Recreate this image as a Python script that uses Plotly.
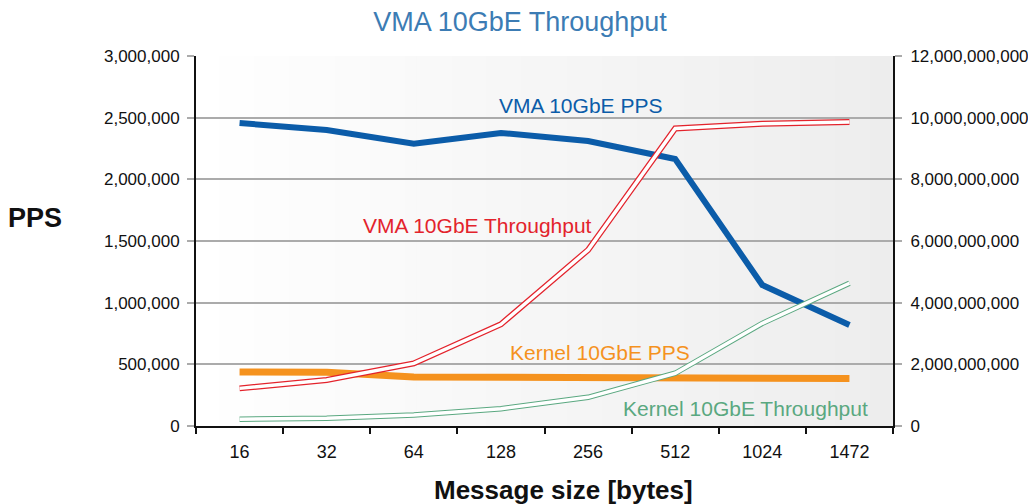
import plotly.graph_objects as go

categories = ["16", "32", "64", "128", "256", "512", "1024", "1472"]
vma_pps = [2457000, 2400000, 2288000, 2376000, 2311000, 2165000, 1143000, 819000]
kernel_pps = [438000, 435000, 397000, 397000, 387000, 385000, 385000, 385000]
vma_tput = [1.22e9, 1.49e9, 2.03e9, 3.30e9, 5.71e9, 9.65e9, 9.80e9, 9.86e9]
kernel_tput = [0.22e9, 0.25e9, 0.36e9, 0.56e9, 0.93e9, 1.71e9, 3.33e9, 4.63e9]

left_ticks = [0, 500000, 1000000, 1500000, 2000000, 2500000, 3000000]
right_ticks = [0, 2e9, 4e9, 6e9, 8e9, 10e9, 12e9]

FONT = "Liberation Sans, Arial, sans-serif"

# The page body has an 8px default margin; the figure is sized to fit the window.
OFF = 8
W, H = 1036 - OFF, 504 - OFF

fig = go.Figure()

fig.add_trace(go.Scatter(x=categories, y=vma_pps, mode="lines",
                         line=dict(color="#0b5ca9", width=6), yaxis="y"))
fig.add_trace(go.Scatter(x=categories, y=kernel_pps, mode="lines",
                         line=dict(color="#f5921e", width=7), yaxis="y"))
# double lines (outline + white core)
fig.add_trace(go.Scatter(x=categories, y=vma_tput, mode="lines",
                         line=dict(color="#e3232c", width=6), yaxis="y2"))
fig.add_trace(go.Scatter(x=categories, y=vma_tput, mode="lines",
                         line=dict(color="#ffffff", width=3.5), yaxis="y2"))
fig.add_trace(go.Scatter(x=categories, y=kernel_tput, mode="lines",
                         line=dict(color="#5aa880", width=5.5), yaxis="y2"))
fig.add_trace(go.Scatter(x=categories, y=kernel_tput, mode="lines",
                         line=dict(color="#ffffff", width=3.5), yaxis="y2"))

# background gradient (white -> light gray)
n = 60
shapes = []
for i in range(n):
    t = (i + 0.5) / n
    c = int(round(255 - t * (255 - 237)))
    shapes.append(dict(type="rect", xref="paper", yref="paper",
                       x0=i / n, x1=(i + 1) / n + 0.002, y0=0, y1=1,
                       fillcolor=f"rgb({c},{c},{c})", line=dict(width=0),
                       layer="below"))

def px(x):
    return (x - 196) / 697

def py(y):
    return (426 - y) / 370

annotations = [
    dict(text="VMA 10GbE PPS", x=px(580), y=py(105), font=dict(color="#0b5ca9", size=21)),
    dict(text="VMA 10GbE Throughput", x=px(477), y=py(225), font=dict(color="#e3232c", size=21)),
    dict(text="Kernel 10GbE PPS", x=px(600), y=py(352), font=dict(color="#f5921e", size=21)),
    dict(text="Kernel 10GbE Throughput", x=px(745), y=py(408), font=dict(color="#5aa880", size=21)),
    dict(text="<b>PPS</b>", x=px(35), y=py(218), font=dict(color="#111111", size=27)),
    dict(text="<b>Message size [bytes]</b>", x=px(563), y=py(490), font=dict(color="#111111", size=26)),
]
for a in annotations:
    a.update(xref="paper", yref="paper", showarrow=False, xanchor="center", yanchor="middle")
    a["font"]["family"] = FONT

fig.update_layout(
    width=W, height=H,
    margin=dict(l=196 - OFF, r=1036 - 893, t=56 - OFF, b=504 - 426, autoexpand=False),
    paper_bgcolor="white",
    plot_bgcolor="rgba(0,0,0,0)",
    showlegend=False,
    hovermode=False,
    font=dict(family=FONT, color="#111111"),
    title=dict(text="VMA 10GbE Throughput", x=(520 - OFF) / W, xref="container", xanchor="center",
               y=1 - (22 - OFF) / H, yref="container", yanchor="middle",
               font=dict(family=FONT, size=27, color="#3c7cb4")),
    xaxis=dict(type="category", range=[-0.5, 7.5], tickson="boundaries",
               ticks="outside", ticklen=6, tickwidth=2, tickcolor="#111111",
               showline=True, linecolor="#111111", linewidth=2, showgrid=False,
               tickfont=dict(size=18), ticklabelstandoff=8, automargin=False),
    yaxis=dict(range=[0, 3000000], tickvals=left_ticks, tickformat=",d",
               showgrid=True, gridcolor="#ababab", gridwidth=1.5, zeroline=False,
               ticks="outside", ticklen=7, tickwidth=1.5, tickcolor="#ababab",
               showline=True, linecolor="#111111", linewidth=2,
               tickfont=dict(size=17), ticklabelstandoff=4, automargin=False),
    yaxis2=dict(range=[0, 12e9], tickvals=right_ticks, tickformat=",d",
                overlaying="y", side="right", showgrid=False, zeroline=False,
                ticks="outside", ticklen=7, tickwidth=1.5, tickcolor="#ababab",
                showline=True, linecolor="#111111", linewidth=2,
                tickfont=dict(size=17), ticklabelstandoff=5, automargin=False),
    shapes=shapes,
    annotations=annotations,
)

fig.write_html("out.html")
